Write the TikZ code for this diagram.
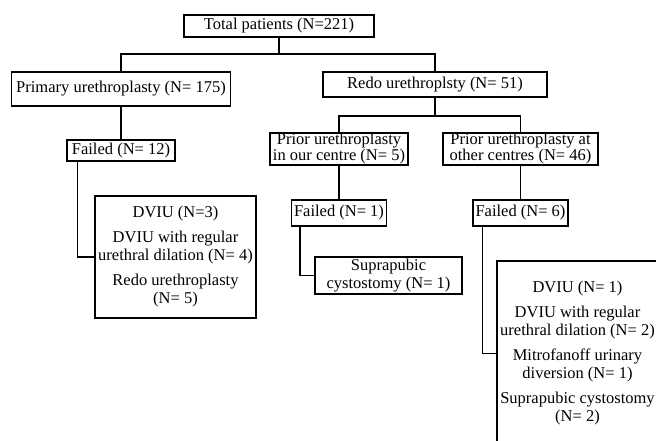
\documentclass[tikz,border=0pt]{standalone}
\usepackage{fontspec}
\setmainfont{Liberation Serif}
\begin{document}
\begin{tikzpicture}[x=1pt, y=-1pt, line width=1.1pt, line join=miter, font=\fontsize{16.5}{18}\selectfont]
	\tikzset{box/.style={draw, fill=white, inner sep=0pt, align=center}}
	\useasboundingbox (0,0) rectangle (656,440);
	\clip (0,0) rectangle (656,440);
	% first level
	\node[box, minimum width=190, minimum height=22] (total) at (279,26) {Total patients (N=221)};
	\node[box, minimum width=219, minimum height=34] (primary) at (121,89) {Primary urethroplasty (N= 175)};
	\node[box, minimum width=224, minimum height=25] (redo) at (435,84.5) {Redo urethroplsty (N= 51)};
	\coordinate (split1) at (279,54);
	\coordinate (split2) at (435,116);
	% primary branch
	\node[box, minimum width=108, minimum height=21] (failA) at (121,150.5) {Failed (N= 12)};
	\node[box, minimum width=161, minimum height=122] (dviuA) at (175.5,257)
		{DVIU (N=3)\\[7pt]DVIU with regular\\urethral dilation (N= 4)\\[7pt]Redo urethroplasty\\(N= 5)};
	% redo branch
	\node[box, minimum width=138, minimum height=32] (ours) at (339,149) {Prior urethroplasty\\[-2pt]in our centre (N= 5)};
	\node[box, minimum width=155, minimum height=32] (other) at (520.5,149) {Prior urethroplasty at\\[-2pt]other centres (N= 46)};
	\node[box, minimum width=95, minimum height=26] (failB) at (339,213) {Failed (N= 1)};
	\node[box, minimum width=95, minimum height=26] (failC) at (520.5,213) {Failed (N= 6)};
	\node[box, minimum width=147, minimum height=37] (supra) at (388.5,275.5) {Suprapubic\\cystostomy (N= 1)};
	\node[box, minimum width=161, minimum height=185] (last) at (577.5,353.5)
		{DVIU (N= 1)\\[7pt]DVIU with regular\\urethral dilation (N= 2)\\[7pt]Mitrofanoff urinary\\diversion (N= 1)\\[7pt]Suprapubic cystostomy\\(N= 2)};
	% connectors
	\draw (total.south) -- (split1);
	\draw (primary.north) |- (split1) -| (redo.north);
	\draw (redo.south) -- (split2);
	\draw (ours.north) |- (split2) -| (other.north);
	\draw (primary.south) -- (failA.north);
	\draw (ours.south) -- (failB.north);
	\draw (other.south) -- (failC.north);
	\draw ([xshift=11pt]failA.south west) |- (dviuA.west);
	\draw ([xshift=9pt]failB.south west) |- (supra.west);
	\draw ([xshift=10pt]failC.south west) |- (last.west);
\end{tikzpicture}
\end{document}
